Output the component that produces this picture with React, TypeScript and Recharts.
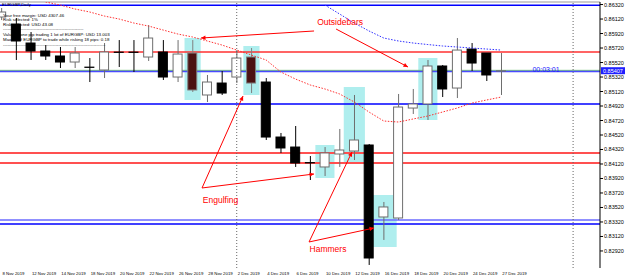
import {
  ComposedChart,
  Bar,
  Line,
  XAxis,
  YAxis,
  ReferenceLine,
  ReferenceArea,
  ReferenceDot,
} from "recharts";

// EURGBP daily bars, 8 Nov – 27 Dec 2019
const dates = [
  "8 Nov", "11 Nov", "12 Nov", "13 Nov", "14 Nov", "15 Nov", "18 Nov", "19 Nov", "20 Nov", "21 Nov",
  "22 Nov", "25 Nov", "26 Nov", "27 Nov", "28 Nov", "29 Nov", "2 Dec", "3 Dec", "4 Dec", "5 Dec",
  "6 Dec", "9 Dec", "10 Dec", "11 Dec", "12 Dec", "13 Dec", "16 Dec", "17 Dec", "18 Dec", "19 Dec",
  "20 Dec", "23 Dec", "24 Dec", "26 Dec", "27 Dec",
];
const opens = [
  0.86148, 0.86051, 0.85789, 0.85679, 0.8561, 0.85527, 0.85458, 0.85417, 0.85665, 0.85665,
  0.85596, 0.85665, 0.8532, 0.85651, 0.85072, 0.85237, 0.8532, 0.85596, 0.85251, 0.84492,
  0.84354, 0.84141, 0.84079, 0.84258, 0.84299, 0.84382, 0.83389, 0.83375, 0.84892, 0.84948,
  0.85472, 0.85168, 0.85706, 0.85651, 0.854,
];
const highs = [
  0.86272, 0.86134, 0.85941, 0.85761, 0.85734, 0.85734, 0.85582, 0.85789, 0.8583, 0.8583,
  0.86037, 0.8583, 0.8583, 0.8583, 0.85348, 0.85403, 0.85692, 0.8572, 0.85306, 0.84548,
  0.84644, 0.8423, 0.84354, 0.84603, 0.85072, 0.84396, 0.83596, 0.85086, 0.85155, 0.85555,
  0.85486, 0.85858, 0.85789, 0.85651, 0.85651,
];
const lows = [
  0.86106, 0.85555, 0.85555, 0.85555, 0.85444, 0.85444, 0.85251, 0.85306, 0.85458, 0.85389,
  0.85541, 0.85279, 0.85251, 0.85113, 0.84975, 0.85072, 0.85237, 0.85099, 0.84451, 0.84272,
  0.84079, 0.83899, 0.83954, 0.84079, 0.84175, 0.82727, 0.83072, 0.83348, 0.8481, 0.84727,
  0.85044, 0.8503, 0.85403, 0.85265, 0.85072,
];
const closes = [
  0.86217, 0.85817, 0.85679, 0.8561, 0.85527, 0.85651, 0.85451, 0.85665, 0.85658, 0.85658,
  0.85858, 0.8532, 0.85637, 0.85141, 0.85251, 0.85099, 0.85582, 0.85237, 0.84492, 0.84341,
  0.84134, 0.84134, 0.84272, 0.84313, 0.84451, 0.82823, 0.83527, 0.84906, 0.84948, 0.85472,
  0.85155, 0.85692, 0.85513, 0.85348, 0.85407,
];
// bars painted dark red by the pattern indicator
const outsideBars = ["27 Nov", "3 Dec"];

// dotted moving averages
const redMa = [
  null, null, null, 0.86355, 0.86313, 0.86258, 0.86217, 0.86161, 0.8612, 0.86065,
  0.86023, 0.85968, 0.85913, 0.85872, 0.85817, 0.85761, 0.85692, 0.85623, 0.85555, 0.85389,
  0.85292, 0.8521, 0.85155, 0.85086, 0.84975, 0.84837, 0.84713, 0.84699, 0.84741, 0.84782,
  0.84837, 0.84892, 0.84961, 0.85003, 0.85044,
];
const blueMa = [
  null, null, null, null, null, null, null, null, null, null,
  null, null, null, null, null, null, null, null, null, null,
  null, null, 0.86313, 0.86189, 0.86065, 0.85955, 0.85858, 0.85817, 0.85789, 0.85768,
  0.85748, 0.85734, 0.8572, 0.85706, 0.85692,
];

// horizontal levels
const levelPrices = [0.8631, 0.85665, 0.85412, 0.85397, 0.84948, 0.84272, 0.84134, 0.83348, 0.83292];
const levelColors = ["#0000ff", "#ff3030", "#6cbf6c", "#4a4aff", "#0000ff", "#ff5050", "#ff5050", "#6b6bff", "#0000ff"];
const levelWidths = [1.5, 1.5, 1, 1.5, 1.5, 2, 2, 1.5, 1.5];

// highlighted bars: centre index, half width, low, high
const boxIdx = [13, 17, 22, 24, 26, 29];
const boxHalf = [0.55, 0.55, 0.65, 0.72, 0.88, 0.65];
const boxLow = [0.85003, 0.85072, 0.83927, 0.84148, 0.82975, 0.84727];
const boxHigh = [0.85858, 0.85748, 0.84382, 0.85182, 0.83692, 0.85582];

// annotations
const noteText = ["Outsidebars", "Engulfing", "Hammers"];
const noteX = [23.03, 14.9, 22.21];
const noteY = [0.86079, 0.83617, 0.82954];
const arrowFrom = [[21.26, 0.85955], [22.76, 0.85982], [13.64, 0.83789], [13.64, 0.83789], [20.92, 0.83044], [20.92, 0.83044]];
const arrowTo = [[13.57, 0.85858], [27.65, 0.85458], [16.43, 0.85058], [21.26, 0.83982], [23.84, 0.84286], [25.34, 0.83237]];

const priceTicks = Array.from({ length: 18 }, (_, k) => +(0.8632 - 0.002 * k).toFixed(5));
const dateTicks = dates.map((_, i) => i).filter((i) => i % 2 === 0);
const tickLabels = dates.map((d) => d + " 2019");

const X_DOMAIN = [-0.102, 40.71];
const Y_DOMAIN = [0.82685, 0.86355];
const FONT = "'Liberation Sans', Arial, sans-serif";

const rows = dates.map((d, i) => ({
  idx: i,
  o: opens[i],
  c: closes[i],
  wick: [lows[i], highs[i]],
  body: [Math.min(opens[i], closes[i]), Math.max(opens[i], closes[i])],
  marked: outsideBars.includes(d),
  redMa: redMa[i],
  blueMa: blueMa[i],
}));

function colors(p: any) {
  if (p.marked) return { fill: "#4b1212", stroke: "#808080" };
  if (p.c >= p.o) return { fill: "#ffffff", stroke: "#6e6e6e" };
  return { fill: "#000000", stroke: "#000000" };
}

const Wick = (props: any) => {
  const { x, y, width, height, payload } = props;
  if (x == null || y == null) return null;
  const cx = x + width / 2;
  const top = Math.min(y, y + height);
  return (
    <line x1={cx} x2={cx} y1={top} y2={top + Math.abs(height)} stroke={colors(payload).stroke} strokeWidth={1} />
  );
};

const Body = (props: any) => {
  const { x, y, width, height, payload } = props;
  if (x == null || y == null) return null;
  const col = colors(payload);
  const top = Math.min(y, y + height);
  const h = Math.abs(height);
  if (h < 1.5) {
    return <line x1={x} x2={x + width} y1={top + h / 2} y2={top + h / 2} stroke={col.stroke} strokeWidth={1.3} />;
  }
  return <rect x={x + 0.5} y={top} width={width - 1} height={h} fill={col.fill} stroke={col.stroke} strokeWidth={1} />;
};

const Arrow = (props: any) => {
  const { x1, y1, x2, y2 } = props;
  const a = Math.atan2(y2 - y1, x2 - x1);
  const s = 5;
  const p1 = `${x2 - s * Math.cos(a - 0.45)},${y2 - s * Math.sin(a - 0.45)}`;
  const p2 = `${x2 - s * Math.cos(a + 0.45)},${y2 - s * Math.sin(a + 0.45)}`;
  return (
    <g>
      <line x1={x1} y1={y1} x2={x2} y2={y2} stroke="#ff0000" strokeWidth={1} />
      <polygon points={`${x2},${y2} ${p1} ${p2}`} fill="#ff0000" />
    </g>
  );
};

const DateTick = (props: any) => {
  const { x, payload } = props;
  return (
    <text x={x + 1} y={275} fontSize={4.3} fontFamily={FONT} fill="#000" textAnchor="start">
      {tickLabels[payload.value]}
    </text>
  );
};

const PriceTick = (props: any) => {
  const { x, y, payload } = props;
  return (
    <text x={x} y={y + 2} fontSize={5.5} fontFamily={FONT} fill="#000" textAnchor="start">
      {payload.value.toFixed(5)}
    </text>
  );
};

const infoLines = [
  "Your free margin: USD 4307.46",
  "Risk selected: 1%",
  "Risk selected: USD 43.08",
  "-------------------------------------------------------",
  "Value of one pip trading 1 lot of EURGBP: USD 13.003",
  "Max lot of EURGBP to trade while risking 18 pips: 0.18",
  "----------------------------------------------------------------------",
];
const infoY = [16.5, 21, 25.5, 30, 35.5, 40.5, 45.5];

export default function App() {
  return (
    <div style={{ position: "absolute", left: 0, top: 0, width: 625, height: 279, background: "#fff" }}>
      <ComposedChart width={625} height={279} data={rows} margin={{ top: 2, right: 0, bottom: 0, left: 0 }}>
        <XAxis
          xAxisId="main"
          type="number"
          dataKey="idx"
          domain={X_DOMAIN}
          allowDataOverflow
          ticks={dateTicks}
          interval={0}
          height={11}
          tickSize={2}
          tickMargin={0}
          axisLine={{ stroke: "#000" }}
          tickLine={{ stroke: "#000" }}
          tick={<DateTick />}
        />
        <XAxis xAxisId="body" type="number" dataKey="idx" domain={X_DOMAIN} allowDataOverflow hide />
        <YAxis
          orientation="right"
          domain={Y_DOMAIN}
          allowDataOverflow
          ticks={priceTicks}
          interval={0}
          width={25}
          tickSize={3}
          tickMargin={1}
          axisLine={{ stroke: "#000" }}
          tickLine={{ stroke: "#000" }}
          tick={<PriceTick />}
        />

        {boxIdx.map((b, k) => (
          <ReferenceArea
            key={"box" + k}
            xAxisId="main"
            x1={b - boxHalf[k]}
            x2={b + boxHalf[k]}
            y1={boxLow[k]}
            y2={boxHigh[k]}
            fill="#afeeee"
            fillOpacity={1}
            stroke="none"
            ifOverflow="visible"
          />
        ))}

        <ReferenceLine xAxisId="main" y={Y_DOMAIN[1]} stroke="#999" strokeWidth={1} />
        <ReferenceLine xAxisId="main" x={16} stroke="#666" strokeDasharray="1 2" />
        <ReferenceLine xAxisId="main" x={38.88} stroke="#666" strokeDasharray="1 2" />
        {levelPrices.map((p, k) => (
          <ReferenceLine key={"lvl" + k} xAxisId="main" y={p} stroke={levelColors[k]} strokeWidth={levelWidths[k]} zIndex={150} />
        ))}

        <Bar xAxisId="main" dataKey="wick" barSize={1} shape={<Wick />} isAnimationActive={false} />
        <Bar xAxisId="body" dataKey="body" barSize={10} shape={<Body />} isAnimationActive={false} />

        <Line
          xAxisId="main"
          type="linear"
          dataKey="redMa"
          stroke="#ff3030"
          strokeWidth={1}
          strokeDasharray="1.5 1.5"
          dot={false}
          activeDot={false}
          isAnimationActive={false}
        />
        <Line
          xAxisId="main"
          type="linear"
          dataKey="blueMa"
          stroke="#3030ff"
          strokeWidth={1}
          strokeDasharray="1.5 1.5"
          dot={false}
          activeDot={false}
          isAnimationActive={false}
        />

        {arrowFrom.map((f, k) => (
          <ReferenceLine
            key={"arr" + k}
            xAxisId="main"
            segment={[{ x: f[0], y: f[1] }, { x: arrowTo[k][0], y: arrowTo[k][1] }]}
            ifOverflow="visible"
            shape={Arrow}
          />
        ))}
        {noteText.map((t, k) => (
          <ReferenceDot
            key={"note" + k}
            xAxisId="main"
            x={noteX[k]}
            y={noteY[k]}
            ifOverflow="visible"
            shape={(p: any) => (
              <text x={p.cx} y={p.cy} dy={3} textAnchor="middle" fontSize={8.5} fontFamily={FONT} fill="#ff0000">
                {t}
              </text>
            )}
          />
        ))}
        <ReferenceDot
          xAxisId="main"
          x={37.04}
          y={0.8543}
          ifOverflow="visible"
          shape={(p: any) => (
            <text x={p.cx} y={p.cy} dy={2.5} textAnchor="middle" fontSize={7} fontFamily={FONT} fill="#2020ff">
              00:03:01
            </text>
          )}
        />
        <ReferenceDot
          xAxisId="main"
          x={X_DOMAIN[1]}
          y={closes[closes.length - 1]}
          ifOverflow="visible"
          shape={(p: any) => (
            <g>
              <rect x={p.cx + 1} y={p.cy - 3.5} width={24} height={7} fill="#1f1fff" />
              <text x={p.cx + 3} y={p.cy + 2} fontSize={5.5} fontFamily={FONT} fill="#fff">
                {closes[closes.length - 1].toFixed(5)}
              </text>
            </g>
          )}
        />
      </ComposedChart>
      <svg width={625} height={279} style={{ position: "absolute", left: 0, top: 0, pointerEvents: "none" }}>
        <text x={2} y={6} fontSize={4.4} fontFamily={FONT} fill="#000">
          EURGBP,Daily
        </text>
        {infoLines.map((t, k) => (
          <text key={k} x={3} y={infoY[k]} fontSize={4.4} fontFamily={FONT} fill="#000">
            {t}
          </text>
        ))}
      </svg>
    </div>
  );
}
